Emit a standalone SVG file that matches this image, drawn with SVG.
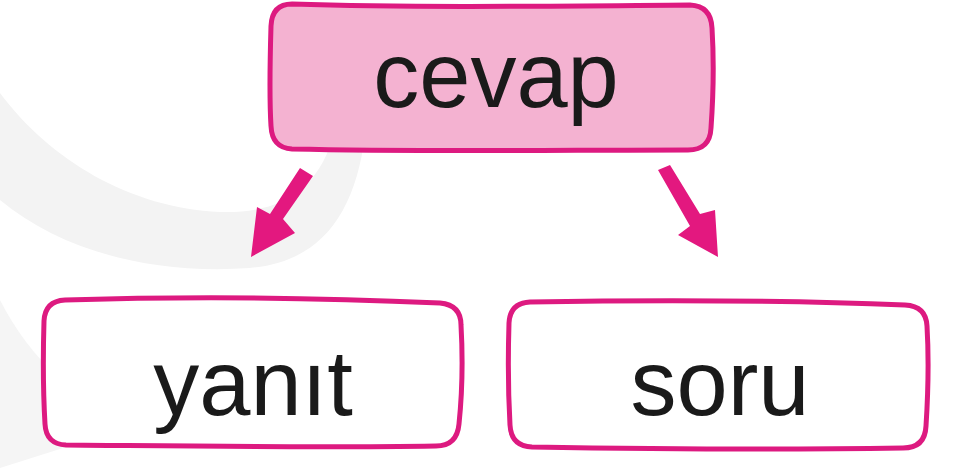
<svg xmlns="http://www.w3.org/2000/svg" width="953" height="468" viewBox="0 0 953 468">
<style>
.box{stroke:#dd1a80;stroke-width:5;stroke-linejoin:round}
.lbl{font-family:"Liberation Sans",Arial,sans-serif;font-size:92px;fill:#1a1a1a;text-anchor:middle}
.arr{fill:#e3187f}
</style>
<rect width="953" height="468" fill="#ffffff"/>
<path d="M0,93 C50,160 130,208 220,212 C280,214 320,190 335,130 L365,135 C355,215 320,262 250,268 C150,275 60,250 0,200 Z" fill="#f3f3f3"/>
<path d="M0,300 C30,360 80,400 120,430 L0,468 Z" fill="#f5f5f5"/>
<g id="node-cevap">
<path class="box" fill="#f4b2d1" d="M292,4 C420,8 560,6 690,5 Q711,6 712,28 C714,60 713,100 711,128 Q710,150 688,150 C560,150 420,152 292,149 Q272,148 271,126 C269,95 270,60 271,26 Q272,4 292,4 Z"/>
<text class="lbl" x="496" y="107">cevap</text>
</g>
<g id="node-yanit">
<path class="box" fill="#ffffff" d="M65,300 C190,296 330,298 440,303 Q461,305 461,325 C463,360 462,395 459,424 Q457,446 436,446 C310,448 180,446 66,445 Q46,444 45,424 C43,390 43,355 44,321 Q45,301 65,300 Z"/>
<text class="lbl" x="253" y="415">yanıt</text>
</g>
<g id="node-soru">
<path class="box" fill="#ffffff" d="M530,302 C650,300 780,300 905,305 Q926,306 927,326 C929,360 928,395 926,426 Q925,448 903,448 C780,450 650,449 532,447 Q511,446 510,425 C508,390 508,355 509,323 Q510,303 530,302 Z"/>
<text class="lbl" x="720" y="415">soru</text>
</g>
<g id="connectors">
<polygon class="arr" points="300,168 313,176 283,219 295,233 251,257 257,207 270,214"/>
<polygon class="arr" points="658,170 670,165 700,214 715,210 718,257 678,235 690,226"/>
</g>
</svg>
